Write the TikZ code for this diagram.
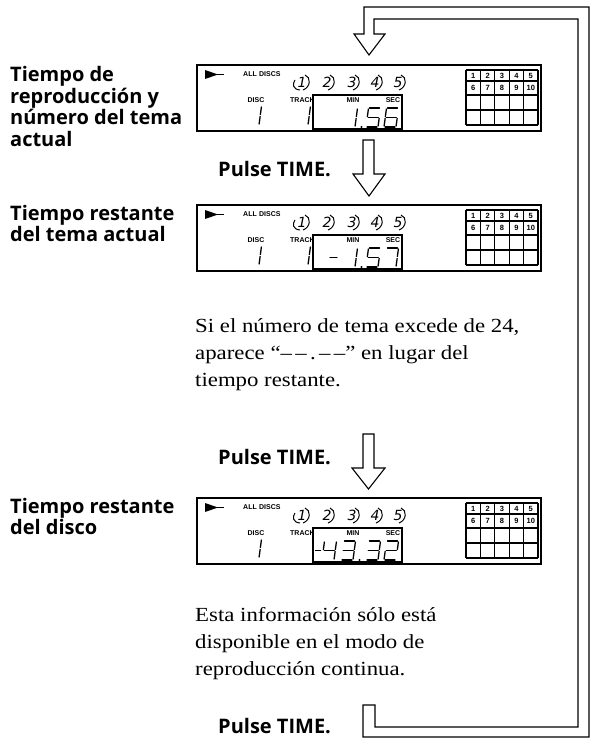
\documentclass[tikz,border=0pt]{standalone}
\usepackage{fontspec}
\setmainfont{Liberation Serif}
\newfontfamily\labfont{Open Sans}
\newfontfamily\notefont[FakeStretch=1.14]{Liberation Serif}
\newfontfamily\lcdfont{Liberation Sans}
\newfontfamily\discfont{DejaVu Sans}
\tikzset{
  lab/.style={font=\labfont\bfseries\fontsize{20}{21.5}\selectfont, anchor=base west, inner sep=0},
  note/.style={font=\notefont\fontsize{20}{27}\selectfont, anchor=base west, inner sep=0},
  hollow/.style={draw=black, line width=1.1pt, fill=white, line join=miter},
  lcdframe/.style={draw=black, line width=1.6pt},
  seg/.style={line width=1.3pt, line cap=round},
  tiny/.style={font=\lcdfont\bfseries\fontsize{7}{8}\selectfont, inner sep=0},
  gridnum/.style={font=\lcdfont\bfseries\fontsize{7.5}{8}\selectfont, inner sep=0},
  discnum/.style={font=\discfont\itshape\fontsize{14}{14}\selectfont, inner sep=0},
}
% seven segment pieces (digit box 12 x 19, slant 2.5)
\newcommand\lcdsga{\draw[seg] (3.5,0)--(13.5,0);}
\newcommand\lcdsgb{\draw[seg] (14.4,1)--(13.35,8.5);}
\newcommand\lcdsgc{\draw[seg] (13.15,10.5)--(12.1,18);}
\newcommand\lcdsgd{\draw[seg] (1,19)--(11,19);}
\newcommand\lcdsge{\draw[seg] (1.15,10.5)--(0.1,18);}
\newcommand\lcdsgf{\draw[seg] (2.4,1)--(1.35,8.5);}
\newcommand\lcdsgg{\draw[seg] (2.25,9.5)--(12.25,9.5);}
\newcommand\lcddigit[3]{%
  \begin{scope}[shift={(#1,#2)}]
    \foreach \s in {#3}{\csname lcdsg\s\endcsname}
  \end{scope}}
\newcommand\lcdpanel[3]{%
  \begin{scope}[shift={(0,#1)}]
    \draw[lcdframe] (197,0) rectangle (541,66);
    \fill (205,5) -- (218,9.5) -- (205,14) -- cycle;
    \draw[line width=1.3pt] (216,9.5) -- (224,9.5);
    \node[tiny, anchor=west] (all#2) at (243,9) {ALL\,\,DISCS};
    \foreach \n/\xx in {1/302,2/327,3/352,4/375,5/398}{
      \node[discnum] (d\n#2) at (\xx,17) {\n};
      \draw[line width=1pt] (\xx+3,10) .. controls (\xx+9,12) and (\xx+9,22) .. (\xx+1,25);
    }
    \draw[line width=1pt] (300,25) .. controls (293,24.5) and (292,19) .. (295,15);
    \node[tiny] (disc#2) at (256,35) {DISC};
    \node[tiny, anchor=west] (track#2) at (290,35) {TRACK};
    \draw[lcdframe, fill=white] (313,30) rectangle (402,64);
    \node[tiny] (min#2) at (353,35.5) {MIN};
    \node[tiny] (sec#2) at (393,35.5) {SEC};
    \lcddigit{247}{41}{b,c}
    #3
    \foreach \i in {0,...,5}{\draw[line width=1.3pt] (466+\i*14.4,5) -- (466+\i*14.4,60);}
    \foreach \yy in {5,16,30,45,60}{\draw[line width=1.3pt] (466,\yy) -- (538,\yy);}
    \foreach \i in {1,...,5}{
      \node[gridnum] (ga\i#2) at (458.8+\i*14.4,10.8) {\i};
    }
    \foreach \i/\t in {1/6,2/7,3/8,4/9,5/10}{
      \node[gridnum] (gb\i#2) at (458.8+\i*14.4,23) {\t};
    }
  \end{scope}}
\begin{document}
\begin{tikzpicture}[x=1pt,y=-1pt]
\fill[white] (0,0) rectangle (595,738);
\useasboundingbox (0,0) rectangle (595,738);

% loop back arrow
\draw[hollow] (363,705) -- (363,737) -- (589,737) -- (589,7) -- (364,7) -- (364,34)
  -- (354,34) -- (369,55) -- (385,34) -- (374,34) -- (374,19) -- (578,19)
  -- (578,727) -- (375,727) -- (375,705) -- cycle;
% down arrows
\draw[hollow] (363,140) -- (363,174) -- (353,174) -- (369,196) -- (385,174) -- (374,174) -- (374,140) -- cycle;
\draw[hollow] (363,434) -- (363,468) -- (352,468) -- (368.5,489) -- (385,468) -- (374,468) -- (374,434) -- cycle;

% displays
\lcdpanel{65}{A}{%
  \lcddigit{296}{41}{b,c}
  \lcddigit{343}{43}{b,c}
  \fill (361.5,62) circle (1.1);
  \lcddigit{366}{43}{a,f,g,c,d}
  \lcddigit{384}{43}{a,f,g,e,c,d}}
\lcdpanel{205}{B}{%
  \lcddigit{296}{41}{b,c}
  \draw[seg] (330,52.5) -- (337,52.5);
  \lcddigit{343}{43}{b,c}
  \fill (361.5,62) circle (1.1);
  \lcddigit{366}{43}{a,f,g,c,d}
  \lcddigit{384}{43}{a,b,c}}
\lcdpanel{498}{C}{%
  \draw[seg] (315.5,52.5) -- (320.5,52.5);
  \lcddigit{322}{43}{f,g,b,c}
  \lcddigit{341}{43}{a,b,g,c,d}
  \fill (359.5,62) circle (1.1);
  \lcddigit{366}{43}{a,b,g,c,d}
  \lcddigit{384}{43}{a,b,g,e,d}}

% left labels
\node[lab] (l1a) at (10,82) {Tiempo de};
\node[lab] (l1b) at (10,103.5) {reproducción y};
\node[lab] (l1c) at (10,125) {número del tema};
\node[lab] (l1d) at (10,146.5) {actual};
\node[lab] (l2a) at (10,220) {Tiempo restante};
\node[lab] (l2b) at (10,241.5) {del tema actual};
\node[lab] (l3a) at (10,513) {Tiempo restante};
\node[lab] (l3b) at (10,534.5) {del disco};

% Pulse TIME.
\node[lab] (p1) at (218,176) {Pulse TIME.};
\node[lab] (p2) at (218,464) {Pulse TIME.};
\node[lab] (p3) at (218,733) {Pulse TIME.};

% notes
\node[note] (n1a) at (195,332) {Si el número de tema excede de 24,};
\node[note] (n1b) at (195,359) {aparece “–\,–\,.\,–\,–” en lugar del};
\node[note] (n1c) at (195,386) {tiempo restante.};
\node[note] (n2a) at (195,621) {Esta información sólo está};
\node[note] (n2b) at (195,648) {disponible en el modo de};
\node[note] (n2c) at (195,675) {reproducción continua.};
\end{tikzpicture}
\end{document}
